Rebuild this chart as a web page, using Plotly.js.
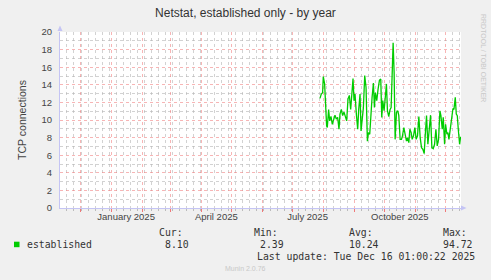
<!DOCTYPE html>
<html>
<head>
<meta charset="utf-8">
<script src="https://cdn.plot.ly/plotly-3.0.1.min.js"></script>
<style>html,body{margin:0;padding:0;background:#f0f0f0;}#chart{width:491px;height:280px;}</style>
</head>
<body>
<div id="chart"></div>
<script>
// ---- data ----
const seriesName = 'established';
const dates = [
'2025-07-28 08:00','2025-07-29 16:00','2025-07-31 00:00','2025-07-31 16:00','2025-08-02 00:00','2025-08-03 00:00',
'2025-08-04 00:00','2025-08-04 16:00','2025-08-06 00:00','2025-08-07 00:00','2025-08-08 08:00','2025-08-09 16:00',
'2025-08-11 00:00','2025-08-12 08:00','2025-08-13 16:00','2025-08-15 00:00','2025-08-16 08:00','2025-08-17 08:00',
'2025-08-18 16:00','2025-08-20 00:00','2025-08-21 08:00','2025-08-22 16:00','2025-08-24 00:00','2025-08-25 08:00',
'2025-08-26 16:00','2025-08-28 00:00','2025-08-29 08:00','2025-08-30 08:00','2025-08-31 08:00','2025-09-01 08:00',
'2025-09-02 16:00','2025-09-04 00:00','2025-09-05 00:00','2025-09-06 08:00','2025-09-07 08:00','2025-09-08 16:00',
'2025-09-09 16:00','2025-09-11 00:00','2025-09-12 08:00','2025-09-13 16:00','2025-09-14 16:00','2025-09-16 00:00',
'2025-09-17 08:00','2025-09-18 08:00','2025-09-19 16:00','2025-09-20 16:00','2025-09-21 16:00','2025-09-23 00:00',
'2025-09-24 08:00','2025-09-25 16:00','2025-09-27 00:00','2025-09-28 00:00','2025-09-29 00:00','2025-09-30 08:00',
'2025-10-01 16:00','2025-10-02 16:00','2025-10-03 16:00','2025-10-05 00:00','2025-10-06 08:00','2025-10-07 08:00',
'2025-10-08 08:00','2025-10-09 08:00','2025-10-10 08:00','2025-10-11 08:00','2025-10-12 16:00','2025-10-14 00:00',
'2025-10-15 00:00','2025-10-16 08:00','2025-10-17 16:00','2025-10-18 16:00','2025-10-20 00:00','2025-10-21 08:00',
'2025-10-22 16:00','2025-10-23 16:00','2025-10-25 00:00','2025-10-26 00:00','2025-10-27 08:00','2025-10-28 08:00',
'2025-10-29 16:00','2025-10-31 00:00','2025-11-01 08:00','2025-11-02 16:00','2025-11-04 00:00','2025-11-05 08:00',
'2025-11-06 16:00','2025-11-08 00:00','2025-11-09 08:00','2025-11-10 08:00','2025-11-11 16:00','2025-11-13 00:00',
'2025-11-14 08:00','2025-11-15 16:00','2025-11-17 00:00','2025-11-18 08:00','2025-11-19 16:00','2025-11-21 00:00',
'2025-11-22 08:00','2025-11-23 16:00','2025-11-25 00:00','2025-11-26 00:00','2025-11-27 08:00','2025-11-28 08:00',
'2025-11-29 16:00','2025-11-30 16:00','2025-12-02 00:00','2025-12-03 00:00','2025-12-04 00:00','2025-12-05 08:00',
'2025-12-06 16:00','2025-12-08 00:00','2025-12-09 00:00','2025-12-10 08:00','2025-12-11 08:00','2025-12-12 08:00',
'2025-12-13 08:00','2025-12-14 16:00','2025-12-15 16:00'
];
const established = [
12.46,12.95,13.1,14.93,14.1,10.5,
9.33,9.14,11.2,9.9,10.4,9.5,
10.1,10.55,10.1,10.3,8.95,10.67,
11.2,10.5,10.9,10.3,9.9,12.4,
12.8,11.2,12.76,14.7,12.2,12.95,
10.67,8.95,11.2,12.95,8.76,10.3,
11.4,15.05,13.7,7.6,8.57,8.38,
11.6,12.57,14.2,11.43,13.1,12.2,
13.5,14.5,14.67,10.3,12.2,11.05,
12.76,14.1,11.05,10.4,11.2,11.4,
15.05,18.78,15.4,7.8,10.86,11.05,
10.5,7.8,7.8,8.2,9.14,8.1,
7.6,8.0,7.43,8.95,8.57,7.8,
8.2,9.14,7.8,8.2,10.4,8.0,
6.86,6.67,6.2,8.2,10.5,7.24,
9.33,10.55,6.86,6.74,7.24,8.95,
7.05,7.8,11.05,10.5,8.95,10.3,
7.24,9.5,8.38,8.57,7.8,8.95,
10.5,11.3,11.2,12.57,10.67,10.5,
8.95,7.24,8.1
];
const xRange = ['2024-11-11 01:00', '2025-12-16 01:00'];
const yRange = [0, 20];
const labelDates = ['2025-01-16', '2025-04-16', '2025-07-16', '2025-10-16'];
const labelTexts = ['January 2025', 'April 2025', 'July 2025', 'October 2025'];
const legendHeaders = ['Cur:', 'Min:', 'Avg:', 'Max:'];
const legendValues = ['8.10', '2.39', '10.24', '94.72'];
const titleText = 'Netstat, established only - by year';
const yTitle = 'TCP connections';
const lastUpdate = 'Last update: Tue Dec 16 01:00:22 2025';
const versionText = 'Munin 2.0.76';
const watermark = 'RRDTOOL / TOBI OETIKER';

// ---- layout helpers (pixel -> paper) ----
const L = 60, T = 32, PW = 401, PH = 176;
const px = x => (x - L) / PW;
const py = y => (T + PH - y) / PH;

const sans = 'Liberation Sans, Arial, sans-serif';
const mono = 'DejaVu Sans Mono, monospace';
const axisBlue = '#c4c4f4';
const majorGrid = 'rgba(240,120,120,0.55)';
const minorGrid = 'rgba(180,180,180,0.6)';

const traces = [
  {x: dates, y: established, type: 'scatter', mode: 'lines', name: seriesName,
   line: {color: '#00cc00', width: 1.3}, xaxis: 'x', yaxis: 'y', hoverinfo: 'skip'},
  {x: labelDates, y: [null, null, null, null], type: 'scatter', mode: 'lines', xaxis: 'x2', yaxis: 'y', showlegend: false, hoverinfo: 'skip'}
];

const annotations = [];
const legX = [157, 252, 347, 441];
const valX = [163, 258, 347, 441];
legendHeaders.forEach((h, i) => annotations.push({text: h, x: px(legX[i]), y: py(232.7), xref: 'paper', yref: 'paper', xanchor: 'left', yanchor: 'middle', showarrow: false, font: {family: mono, size: 9.8, color: '#333'}}));
legendValues.forEach((v, i) => annotations.push({text: v, x: px(valX[i]), y: py(244.3), xref: 'paper', yref: 'paper', xanchor: 'left', yanchor: 'middle', showarrow: false, font: {family: mono, size: 9.8, color: '#333'}}));
annotations.push({text: seriesName, x: px(25), y: py(244.3), xref: 'paper', yref: 'paper', xanchor: 'left', yanchor: 'middle', showarrow: false, font: {family: mono, size: 9.8, color: '#333'}});
annotations.push({text: lastUpdate, x: px(255), y: py(256.7), xref: 'paper', yref: 'paper', xanchor: 'left', yanchor: 'middle', showarrow: false, font: {family: mono, size: 9.8, color: '#333'}});
annotations.push({text: versionText, x: px(245), y: py(268.3), xref: 'paper', yref: 'paper', xanchor: 'center', yanchor: 'middle', showarrow: false, font: {family: sans, size: 7, color: '#c8c8c8'}});
annotations.push({text: watermark, x: px(483.5), y: py(58.5), xref: 'paper', yref: 'paper', xanchor: 'center', yanchor: 'middle', textangle: 90, showarrow: false, font: {family: sans, size: 7, color: '#c8c8c8'}});

const shapes = [
  {type: 'rect', xref: 'paper', yref: 'paper', x0: px(14), x1: px(19.5), y0: py(241.7), y1: py(247.2), fillcolor: '#00cc00', line: {width: 0}},
  {type: 'path', xref: 'paper', yref: 'paper', path: `M ${px(57.5)} ${py(31)} L ${px(62.5)} ${py(31)} L ${px(60)} ${py(25.5)} Z`, fillcolor: axisBlue, line: {width: 0}},
  {type: 'path', xref: 'paper', yref: 'paper', path: `M ${px(461)} ${py(205.5)} L ${px(461)} ${py(210.5)} L ${px(466.5)} ${py(208)} Z`, fillcolor: axisBlue, line: {width: 0}}
];

const layout = {
  width: 491, height: 280,
  margin: {l: L, r: 491 - L - PW, t: T, b: 280 - T - PH, pad: 0},
  paper_bgcolor: '#f0f0f0', plot_bgcolor: '#ffffff',
  showlegend: false,
  title: {text: titleText, x: 0.5, xanchor: 'center', y: 1 - 12.5 / 280, yanchor: 'middle', yref: 'container', xref: 'container',
          font: {family: sans, size: 12, color: '#333'}},
  xaxis: {type: 'date', range: xRange, showticklabels: false, ticks: 'outside', ticklen: 3, tickcolor: 'rgba(240,90,90,0.8)',
          dtick: 'M1', tick0: '2024-12-01', showgrid: true, gridcolor: majorGrid, griddash: 'dot', gridwidth: 1,
          minor: {dtick: 7 * 86400000, tick0: '2024-11-11', showgrid: true, gridcolor: minorGrid, griddash: 'dot', ticks: 'outside', ticklen: 2, tickcolor: '#bbb'},
          showline: true, linecolor: axisBlue, linewidth: 1, zeroline: false, fixedrange: true},
  xaxis2: {type: 'date', overlaying: 'x', side: 'bottom', range: xRange, tickmode: 'array', tickvals: labelDates, ticktext: labelTexts,
           showgrid: false, ticks: '', showline: false, zeroline: false, ticklabelstandoff: 1,
           tickfont: {family: sans, size: 9.5, color: '#444'}, fixedrange: true},
  yaxis: {range: yRange, dtick: 2, tick0: 0, showgrid: true, gridcolor: majorGrid, griddash: 'dot', gridwidth: 1,
          minor: {dtick: 1, showgrid: true, gridcolor: minorGrid, griddash: 'dot'},
          ticks: '', ticklabelstandoff: 5, tickfont: {family: sans, size: 9.5, color: '#444'},
          showline: true, linecolor: axisBlue, zeroline: false, fixedrange: true,
          title: {text: yTitle, standoff: 12, font: {family: sans, size: 10.5, color: '#444'}}},
  annotations: annotations,
  shapes: shapes
};

Plotly.newPlot('chart', traces, layout, {displayModeBar: false, staticPlot: true});
</script>
</body>
</html>
